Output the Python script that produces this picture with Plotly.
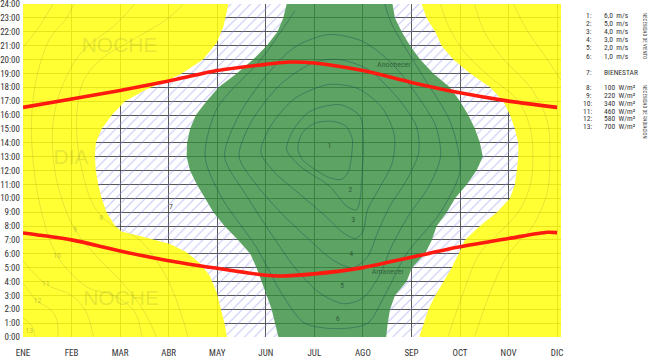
import plotly.graph_objects as go

# ---------------- data ----------------
MONTHS = ["ENE", "FEB", "MAR", "ABR", "MAY", "JUN", "JUL", "AGO", "SEP", "OCT", "NOV", "DIC"]
MONTH_POS = list(range(12))
HOUR_POS = list(range(25))
HOUR_LABELS = [f"{h}:00" for h in HOUR_POS]
XMAX = 11.08

# boundary between yellow (night / too cold) and hatched zone (comfort with radiation)
HATCH_LEFT_H = [0, 1, 2, 3.2, 4.4, 5.3, 6.1, 6.7, 7.15, 7.6, 8, 9, 10, 11, 12, 13, 14, 15, 16, 17,
                17.85, 18.9, 20, 21.2, 22.4, 24]
HATCH_LEFT_M = [4.20, 4.15, 4.08, 3.99, 3.85, 3.65, 3.37, 3.03, 2.55, 2.03, 1.90, 1.72, 1.62, 1.55,
                1.50, 1.48, 1.50, 1.62, 1.83, 2.10, 2.55, 3.23, 3.71, 3.99, 4.13, 4.23]

# green zone (comfort with wind), values at HOUR_POS
GREEN_LEFT_M = [5.26, 5.19, 5.12, 5.02, 4.92, 4.81, 4.68, 4.43, 4.15, 3.92, 3.75, 3.58, 3.44, 3.37,
                3.38, 3.44, 3.56, 3.78, 4.03, 4.40, 4.74, 5.02, 5.24, 5.36, 5.43]
GREEN_RIGHT_M = [7.48, 7.51, 7.56, 7.66, 7.90, 8.01, 8.28, 8.42, 8.52, 8.73, 8.90, 9.14, 9.34, 9.47,
                 9.41, 9.31, 9.17, 9.00, 8.79, 8.45, 8.18, 7.97, 7.80, 7.66, 7.61]
# right edge of hatched zone, values at HOUR_POS
HATCH_RIGHT_M = [8.16, 8.25, 8.35, 8.49, 8.66, 8.83, 8.97, 9.10, 9.41, 9.76, 10.03, 10.13, 10.17, 10.20,
                 10.20, 10.13, 10.03, 9.89, 9.62, 9.21, 8.86, 8.62, 8.49, 8.31, 8.21]

# sunset / sunrise
SUNSET_M = [0, 1, 2, 3, 4, 5, 5.5, 6, 7, 8, 9, 10, 11]
SUNSET_H = [16.55, 17.15, 17.77, 18.45, 19.2, 19.65, 19.82, 19.75, 19.2, 18.35, 17.6, 17.0, 16.55]
SUNRISE_M = [0, 1, 2, 3, 4, 5, 5.3, 6, 7, 8, 9, 10, 10.8, 11]
SUNRISE_H = [7.5, 7.0, 6.2, 5.5, 4.95, 4.45, 4.4, 4.55, 5.0, 5.75, 6.5, 7.1, 7.55, 7.52]

# wind-speed contours (inside green)
WIND_1_M = [5.66, 5.75, 6.0, 6.35, 6.65, 6.78, 6.77, 6.70, 6.55, 6.30, 6.00, 5.75, 5.66]
WIND_1_H = [13.6, 14.7, 15.4, 15.55, 15.2, 14.3, 13.2, 11.9, 11.35, 11.5, 12.1, 12.8, 13.6]
WIND_2_M = [5.43, 5.57, 5.91, 6.53, 6.94, 7.01, 6.98, 6.94, 6.87, 6.67, 6.32, 5.71, 5.43]
WIND_2_H = [13.5, 14.94, 16.26, 16.74, 15.9, 13.98, 11.57, 9.9, 9.17, 9.41, 10.85, 12.3, 13.5]
WIND_3_M = [4.9, 5.1, 5.6, 6.3, 6.9, 7.4, 7.65, 7.6, 7.35, 7.1, 7.0, 6.85, 6.6, 6.2, 5.7, 5.2, 4.9]
WIND_3_H = [13.3, 15.2, 17.2, 18.2, 17.9, 16.5, 14.5, 12.5, 10.8, 9.2, 7.6, 7.1, 7.5, 8.8, 10.3, 11.8, 13.3]
WIND_4_M = [4.45, 4.7, 5.3, 6.0, 6.5, 7.1, 7.7, 8.1, 8.15, 7.9, 7.55, 7.3, 7.1, 6.8, 6.4, 5.9, 5.3, 4.8, 4.45]
WIND_4_H = [13.0, 15.5, 18.2, 19.8, 20.0, 19.3, 17.3, 15.2, 13.3, 11.3, 9.4, 7.5, 5.8, 5.0, 5.5, 7.0, 9.0, 11.0, 13.0]
WIND_5_M = [4.15, 4.45, 5.0, 5.6, 6.3, 7.0, 7.6, 8.1, 8.5, 8.6, 8.35, 7.95, 7.6, 7.35, 7.0, 6.6, 6.1, 5.6, 5.1, 4.6, 4.15]
WIND_5_H = [13.0, 16.0, 18.8, 20.9, 21.8, 21.3, 19.7, 17.5, 15.2, 13.0, 10.8, 8.8, 6.6, 4.5, 2.8, 2.4, 3.2, 5.0, 7.5, 10.2, 13.0]
WIND_6_M = [5.6, 4.9, 4.0, 3.75, 4.1, 4.8, 5.35, 5.8, 6.5, 7.1, 7.45, 7.9, 8.6, 9.0, 8.8, 8.2, 7.6, 7.45]
WIND_6_H = [23.5, 20.0, 16.5, 13.0, 10.0, 6.5, 3.0, 1.0, 0.6, 1.0, 3.0, 6.0, 9.0, 12.0, 15.5, 19.0, 22.5, 24.0]
WIND_CONTOURS = [(WIND_1_M, WIND_1_H), (WIND_2_M, WIND_2_H), (WIND_3_M, WIND_3_H),
                 (WIND_4_M, WIND_4_H), (WIND_5_M, WIND_5_H), (WIND_6_M, WIND_6_H)]

# radiation contours (in yellow)
RAD_A_M = [3.3, 3.0, 2.3, 1.6, 1.25, 1.12, 1.12, 1.25, 1.45, 1.75, 2.4, 3.0, 3.4]
RAD_A_H = [24, 23, 21.5, 20, 18.5, 16.5, 14, 11.5, 9.5, 8.3, 7.0, 4.0, 0]
RAD_B_M = [2.3, 1.9, 1.2, 0.8, 0.62, 0.62, 0.75, 1.07, 1.6, 2.1, 2.5, 2.75]
RAD_B_H = [24, 22.5, 20.5, 18, 15.5, 13, 10.5, 7.74, 5.5, 3.7, 1.8, 0]
RAD_C_M = [1.05, 0.9, 0.55, 0.3, 0.18, 0.2, 0.35, 0.70, 1.32, 1.86, 2.3, 2.45]
RAD_C_H = [24, 23, 21.5, 19, 16, 13, 9.5, 5.87, 3.6, 3.0, 1.8, 0]
RAD_D_M = [0, 0.47, 1.0, 1.3, 1.45]
RAD_D_H = [5.5, 3.82, 3.0, 1.8, 0]
RAD_E_M = [0, 0.3, 0.56, 0.7, 0.72]
RAD_E_H = [3.9, 2.57, 2.0, 1.2, 0]
RAD_F_M = [0, 0.2, 0.25]
RAD_F_H = [1.4, 0.7, 0]
RAD_G_M = [0, 0.29, 0.62]
RAD_G_H = [20.85, 22.15, 24]
RAD_R1_M = [8.6, 8.75, 9.1, 9.6, 10.2, 10.45, 10.5, 10.45, 10.2, 9.8, 9.4, 9.1, 8.75]
RAD_R1_H = [24, 22.5, 20.5, 18.8, 17, 15, 13, 11, 9, 7.5, 6, 3.5, 0]
RAD_R2_M = [9.3, 9.5, 9.9, 10.45, 10.8, 10.85, 10.8, 10.5, 10.0, 9.6, 9.3]
RAD_R2_H = [24, 22, 20, 18, 15.5, 13, 10.5, 8, 6, 3, 0]
RAD_R3_M = [10.1, 10.4, 10.8, 11.08]
RAD_R3_H = [24, 22, 20, 18.5]
RAD_CONTOURS = [(RAD_A_M, RAD_A_H), (RAD_B_M, RAD_B_H), (RAD_C_M, RAD_C_H), (RAD_D_M, RAD_D_H),
                (RAD_E_M, RAD_E_H), (RAD_F_M, RAD_F_H), (RAD_G_M, RAD_G_H),
                (RAD_R1_M, RAD_R1_H), (RAD_R2_M, RAD_R2_H), (RAD_R3_M, RAD_R3_H)]

WIND_LABELS = ["1", "2", "3", "4", "5", "6"]
WIND_LABEL_M = [6.31, 6.74, 6.80, 6.76, 6.57, 6.48]
WIND_LABEL_H = [13.74, 10.6, 8.4, 6.0, 3.7, 1.32]
RAD_LABELS = ["8", "9", "10", "11", "12", "13"]
RAD_LABEL_M = [1.61, 1.07, 0.70, 0.47, 0.30, 0.13]
RAD_LABEL_H = [8.58, 7.74, 5.87, 3.82, 2.57, 0.41]

LEGEND_NUM = ["1:", "2:", "3:", "4:", "5:", "6:", "7:", "8:", "9:", "10:", "11:", "12:", "13:"]
LEGEND_VAL = ["6,0  m/s", "5,0  m/s", "4,0  m/s", "3,0  m/s", "2,0  m/s", "1,0  m/s", "BIENESTAR",
              "100  W/m²", "220  W/m²", "340  W/m²", "460  W/m²", "580  W/m²", "700  W/m²"]
LEGEND_PY = [15, 23.2, 31.4, 39.6, 47.8, 56, 72.3, 87.7, 95.5, 103.3, 111.1, 118.9, 126.7]

# ---------------- figure ----------------
FONT = "Liberation Sans Narrow, Arial Narrow, Roboto Condensed, Liberation Sans, sans-serif"
fig = go.Figure()


def area(xs, ys, **kw):
    return go.Scatter(x=xs, y=ys, mode="lines", fill="toself", line=dict(width=0),
                      hoverinfo="skip", showlegend=False, **kw)


YELLOW = "rgba(255,255,15,0.85)"
# yellow zones
fig.add_trace(area([0] + HATCH_LEFT_M + [0], [0] + HATCH_LEFT_H + [24], fillcolor=YELLOW))
fig.add_trace(area(HATCH_RIGHT_M + [XMAX, XMAX], HOUR_POS + [24, 0], fillcolor=YELLOW))

# faint texts on yellow
fig.add_trace(go.Scatter(x=[1.99, 2.02, 0.99], y=[20.9, 2.69, 12.84], mode="text",
                         text=["NOCHE", "NOCHE", "DIA"], hoverinfo="skip", showlegend=False,
                         textfont=dict(family="Liberation Sans, Arial, sans-serif", size=21,
                                       color="rgba(110,110,60,0.18)")))
for xs, ys in RAD_CONTOURS:
    fig.add_trace(go.Scatter(x=xs, y=ys, mode="lines", hoverinfo="skip", showlegend=False,
                             line=dict(color="rgba(90,90,60,0.2)", width=0.8, shape="spline")))
fig.add_trace(go.Scatter(x=RAD_LABEL_M, y=RAD_LABEL_H, mode="text", text=RAD_LABELS,
                         hoverinfo="skip", showlegend=False,
                         textfont=dict(family=FONT, size=8, color="rgba(90,90,60,0.35)")))

# hatched zones
HATCH = dict(shape="/", size=7, solidity=0.16, fgcolor="#8f8ff0", bgcolor="rgba(255,255,255,0)")
fig.add_trace(area(HATCH_LEFT_M + GREEN_LEFT_M[::-1], HATCH_LEFT_H + HOUR_POS[::-1],
                   fillcolor="rgba(0,0,0,0)", fillpattern=HATCH))
fig.add_trace(area(GREEN_RIGHT_M + HATCH_RIGHT_M[::-1], HOUR_POS + HOUR_POS[::-1],
                   fillcolor="rgba(0,0,0,0)", fillpattern=HATCH))

# green zone
fig.add_trace(area(GREEN_LEFT_M + GREEN_RIGHT_M[::-1], HOUR_POS + HOUR_POS[::-1],
                   fillcolor="rgba(52,140,60,0.80)"))

for xs, ys in WIND_CONTOURS:
    fig.add_trace(go.Scatter(x=xs, y=ys, mode="lines", hoverinfo="skip", showlegend=False,
                             line=dict(color="rgba(30,75,85,0.55)", width=0.8, shape="spline",
                                       smoothing=0.8)))
fig.add_trace(go.Scatter(x=WIND_LABEL_M, y=WIND_LABEL_H, mode="text", text=WIND_LABELS,
                         hoverinfo="skip", showlegend=False,
                         textfont=dict(family=FONT, size=8, color="rgba(30,70,50,0.75)")))
fig.add_trace(go.Scatter(x=[7.64, 7.51], y=[19.64, 4.66], mode="text", text=["Anochecer", "Amanecer"],
                         hoverinfo="skip", showlegend=False,
                         textfont=dict(family=FONT, size=8, color="rgba(30,75,45,0.75)")))
fig.add_trace(go.Scatter(x=[3.05], y=[9.375], mode="text", text=["7"], hoverinfo="skip",
                         showlegend=False, textfont=dict(family=FONT, size=8, color="#444")))

# sunset / sunrise
for xs, ys in [(SUNSET_M, SUNSET_H), (SUNRISE_M, SUNRISE_H)]:
    fig.add_trace(go.Scatter(x=xs, y=ys, mode="lines", hoverinfo="skip", showlegend=False,
                             line=dict(color="#ff1a10", width=3.6, shape="spline", smoothing=0.8)))

# legend on the right
PLOT_L, PLOT_R, PLOT_T, PLOT_B = 23, 561, 4, 337


def px_to_paper_x(px):
    return (px - PLOT_L) / (PLOT_R - PLOT_L)


def py_to_paper_y(py):
    return (PLOT_B - py) / (PLOT_B - PLOT_T)


annotations = []
for num, val, py in zip(LEGEND_NUM, LEGEND_VAL, LEGEND_PY):
    annotations.append(dict(x=px_to_paper_x(593), y=py_to_paper_y(py), xref="paper", yref="paper",
                            text=num, showarrow=False, xanchor="right", yanchor="middle",
                            font=dict(family=FONT, size=7.5, color="#333"), borderpad=0))
    annotations.append(dict(x=px_to_paper_x(603), y=py_to_paper_y(py), xref="paper", yref="paper",
                            text=val, showarrow=False, xanchor="left", yanchor="middle",
                            font=dict(family=FONT, size=7.5, color="#333"), borderpad=0))
annotations.append(dict(x=px_to_paper_x(645), y=py_to_paper_y(36), xref="paper", yref="paper",
                        text="NECESIDAD DE VIENTO", showarrow=False, textangle=90,
                        xanchor="center", yanchor="middle",
                        font=dict(family=FONT, size=5, color="#333"), borderpad=0))
annotations.append(dict(x=px_to_paper_x(645), y=py_to_paper_y(112), xref="paper", yref="paper",
                        text="NECESIDAD DE RADIACION", showarrow=False, textangle=90,
                        xanchor="center", yanchor="middle",
                        font=dict(family=FONT, size=5, color="#333"), borderpad=0))

GRID = "rgba(70,70,70,0.9)"
fig.update_layout(
    width=650, height=361,
    margin=dict(l=PLOT_L, r=650 - PLOT_R, t=PLOT_T, b=361 - PLOT_B, autoexpand=False),
    paper_bgcolor="white", plot_bgcolor="white",
    showlegend=False,
    annotations=annotations,
    xaxis=dict(range=[0, XMAX], tickvals=MONTH_POS, ticktext=MONTHS, showgrid=True,
               gridcolor=GRID, gridwidth=1, zeroline=False, showline=False, ticks="",
               ticklabelstandoff=9, tickfont=dict(family=FONT, size=9, color="#333"),
               ticklabeloverflow="allow", fixedrange=True, automargin=False),
    yaxis=dict(range=[0, 24], tickvals=HOUR_POS, ticktext=HOUR_LABELS, showgrid=True,
               gridcolor=GRID, gridwidth=1, zeroline=False, showline=False, ticks="",
               ticklabelstandoff=2, tickfont=dict(family=FONT, size=9, color="#333"),
               ticklabeloverflow="allow", fixedrange=True, automargin=False),
)

fig.write_html("out.html", config={"displayModeBar": False, "staticPlot": True},
               post_script="document.body.style.margin='0';")
